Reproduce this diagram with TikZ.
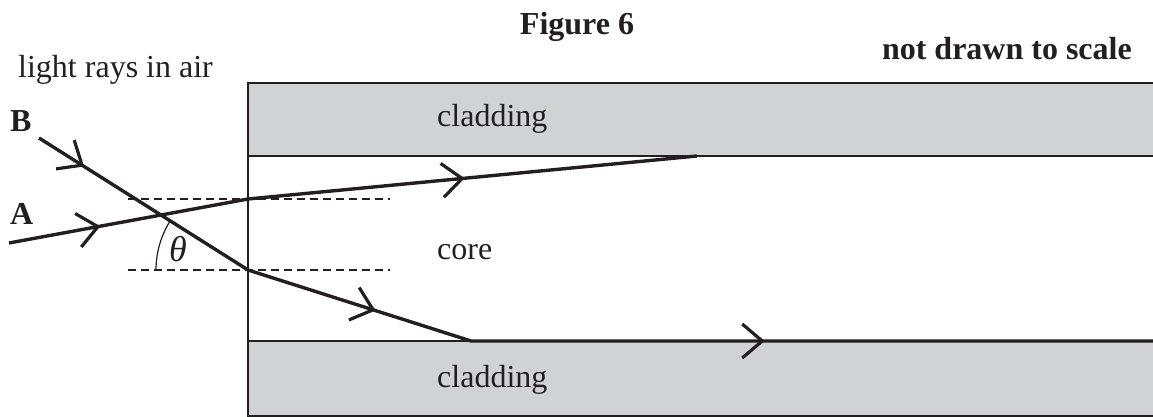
\documentclass[tikz,border=0pt]{standalone}
\usepackage{fontspec}
\setmainfont{Liberation Serif}
\usetikzlibrary{decorations.markings}
\definecolor{clad}{HTML}{D1D2D4}
\definecolor{ink}{HTML}{231F20}
\tikzset{
  x=1pt, y=1pt,
  txt/.style={inner sep=0pt, font=\fontsize{32}{38}\selectfont, text=ink},
  btxt/.style={txt, font=\fontsize{32}{38}\selectfont\bfseries},
  border/.style={draw=ink, line width=1.8pt},
  guide/.style={draw=ink, line width=1.4pt, dash pattern=on 8pt off 5pt},
  ray/.style={draw=ink, line width=3.4pt, line join=round},
  chev/.style={decoration={markings, mark=at position #1 with {\draw[ink, line width=3.2pt] (-20pt,17pt) -- (0,0) -- (-20pt,-17pt);}}, decorate}
}
\begin{document}
\begin{tikzpicture}
\useasboundingbox (0,0) rectangle (1153,417);
% fibre geometry
\coordinate (TL) at (248,334);
\coordinate (TR) at (1153,334);
\coordinate (CL1) at (248,261);
\coordinate (CR1) at (1153,261);
\coordinate (CL2) at (248,76);
\coordinate (CR2) at (1153,76);
\coordinate (BL) at (248,1);
\coordinate (BR) at (1153,1);
\fill[clad] (CL1) rectangle (TR);
\fill[clad] (BL) rectangle (CR2);
% dashed normals
\coordinate (D1a) at (128,218);
\coordinate (D1b) at (390,218);
\coordinate (D2a) at (128,147);
\coordinate (D2b) at (390,147);
\draw[guide] (D1a) -- (D1b);
\draw[guide] (D2a) -- (D2b);
% borders
\draw[border] (TR) -- (TL) -- (BL) -- (BR);
\draw[border] (CL1) -- (CR1);
\draw[border] (CL2) -- (CR2);
% rays
\coordinate (As) at (9,174);
\coordinate (P1) at (248,218);
\coordinate (T) at (697,261);
\coordinate (Bs) at (39,279);
\coordinate (P2) at (248,147);
\coordinate (Q) at (471,76);
\coordinate (E) at (1153,76);
% angle arc
\draw[ink, line width=1.2pt] (P2) ++(180:92) arc[start angle=180, end angle=147.7, radius=92];
\draw[ray] (As) -- (P1) -- (T);
\draw[ray] (Bs) -- (P2) -- (Q) -- (E);
\path[chev=0.372] (As) -- (P1);
\path[chev=0.477] (P1) -- (T);
\path[chev=0.206] (Bs) -- (P2);
\path[chev=0.561] (P2) -- (Q);
\path[chev=0.427] (Q) -- (E);
% labels
\node[txt, anchor=base west] (lra) at (18,339) {light rays in air};
\node[btxt, anchor=base west] (lB) at (10,285) {B};
\node[btxt, anchor=base west] (lA) at (10,192) {A};
\node[btxt, anchor=base] (fig) at (577,382) {Figure 6};
\node[btxt, anchor=base east] (ndts) at (1132,357) {not drawn to scale};
\node[txt, anchor=base west] (clad1) at (437,290) {cladding};
\node[txt, anchor=base west] (core) at (437,157) {core};
\node[txt, anchor=base west] (clad2) at (437,29) {cladding};
\node[txt, font=\fontsize{36}{40}\selectfont\itshape, anchor=base] (th) at (178,155) {θ};
\end{tikzpicture}
\end{document}
